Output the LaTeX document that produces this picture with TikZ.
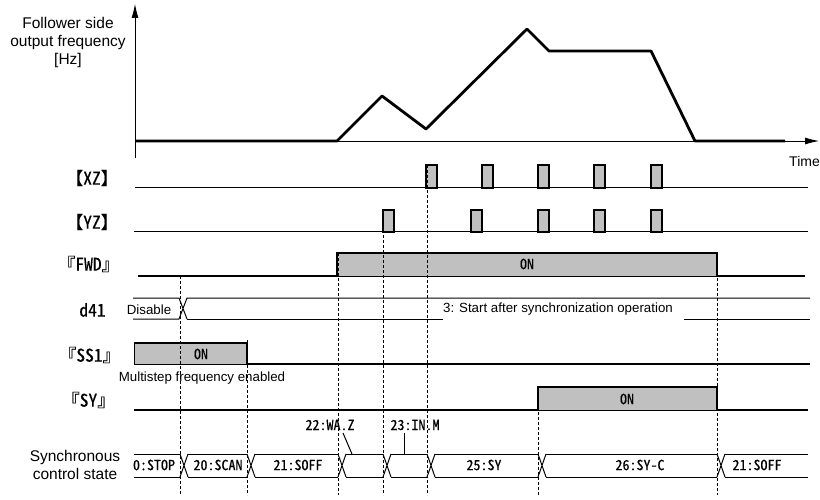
\documentclass[tikz,border=0pt]{standalone}
\usepackage{fontspec}
\setmainfont{Liberation Sans}
\newfontfamily\jpfont[RawFeature={+hwid},FakeBold=0.4]{Noto Sans CJK JP}
\usetikzlibrary{arrows.meta}
\definecolor{sigfill}{RGB}{192,192,192}
\begin{document}
\begin{tikzpicture}[x=1pt,y=-1pt,
  thickline/.style={line width=2.8pt,line join=round},
  thinline/.style={line width=1pt},
  pulse/.style={fill=sigfill,draw=black,line width=1.4pt},
  guide/.style={line width=0.7pt,dash pattern=on 3pt off 2pt},
  axis/.style={line width=0.8pt,-{Latex[length=14pt,width=7pt]}},
  lab/.style={font=\fontsize{15.5}{18}\selectfont,align=center,inner sep=0pt},
  small/.style={font=\fontsize{13.3}{15}\selectfont,inner sep=1pt},
  sig/.style={font=\jpfont\fontsize{17.5}{19}\selectfont,inner sep=0pt},
  st/.style={font=\jpfont\fontsize{14}{16}\selectfont,inner sep=0pt},
]
\useasboundingbox (0,0) rectangle (820,500);

% ---------- frequency graph ----------
\node[lab] (ylab) at (68,42) {Follower side\\output frequency\\{[Hz]}};
\coordinate (vbot) at (135,158);
\coordinate (vtop) at (135,4);
\coordinate (hleft) at (135,141);
\coordinate (hright) at (819,141);
\draw[axis] (vbot) -- (vtop);
\draw[axis] (hleft) -- (hright);
\draw[thickline] (135,141) -- (337,141) -- (382,96) -- (426,129) -- (527,29)
  -- (549,51) -- (651,51) -- (695,141) -- (785,141);
\node[font=\fontsize{14}{16}\selectfont,anchor=east,inner sep=0pt] (time) at (820,161) {Time};

% ---------- signal labels ----------
\node[sig] (lxz) at (92,178) {【XZ】};
\node[sig] (lyz) at (92,222) {【YZ】};
\node[sig] (lfwd) at (88.5,264) {『FWD』};
\node[sig] (ld41) at (92.5,310) {d41};
\node[sig] (lss1) at (89.5,355) {『SS1』};
\node[sig] (lsy) at (88.5,400) {『SY』};
\node[lab] (lstate) at (75,465) {Synchronous\\control state};

% ---------- XZ ----------
\draw[thinline] (135,188) -- (808,188);
\foreach \a in {426,482,538,594,651} \draw[pulse] (\a,188) rectangle (\a+11,165);

% ---------- YZ ----------
\draw[thinline] (134,232) -- (808,232);
\foreach \a in {383,471,538,594,651} \draw[pulse] (\a,232) rectangle (\a+11,210);

% ---------- FWD ----------
\fill[sigfill] (337,253) rectangle (717,276);
\draw[thinline] (337,276) -- (717,276);
\draw[thickline,line join=miter] (138,276) -- (337,276) -- (337,253) -- (717,253) -- (717,276) -- (805,276);
\node[st] (onfwd) at (527,264) {ON};

% ---------- d41 ----------
\draw[thinline] (133,298) -- (179,298) -- (187,319) (133,319) -- (179,319) -- (187,298) -- (810,298);
\draw[thinline] (187,319) -- (443,319) (684,319) -- (810,319);
\node[small] (disable) at (149,310) {Disable};
\node[small] (start) at (558,309) {3: Start after synchronization operation};

% ---------- SS1 ----------
\fill[sigfill] (134,343) rectangle (247,364);
\draw[thinline] (134,343) -- (134,364) -- (247,364);
\draw[thickline,line join=miter] (134,343) -- (247,343) -- (247,364) -- (810,364);
\node[st] (onss1) at (201,354) {ON};
\node[small] (multi) at (202,378) {Multistep frequency enabled};

% ---------- SY ----------
\fill[sigfill] (538,387) rectangle (717,410);
\draw[thinline] (538,410) -- (717,410);
\draw[thickline,line join=miter] (134,410) -- (538,410) -- (538,387) -- (717,387) -- (717,410) -- (808,410);
\node[st] (onsy) at (627,399) {ON};

% ---------- synchronous control state ----------
\draw[thinline] (134,454) -- (180,454) (134,477) -- (180,477);
\foreach \c in {180,247,338,383,427,538,717}
  \draw[thinline] (\c,454) -- (\c+8,477) (\c,477) -- (\c+8,454);
\foreach \a/\b in {188/247,255/338,346/383,391/427,435/538,546/717,725/808}
  \draw[thinline] (\a,454) -- (\b,454) (\a,477) -- (\b,477);
\node[st] (s0) at (154,465) {0:STOP};
\node[st] (s20) at (218,465) {20:SCAN};
\node[st] (s21) at (298,465) {21:SOFF};
\node[st] (s25) at (484,465) {25:SY};
\node[st] (s26) at (640,465) {26:SY-C};
\node[st] (s21b) at (757,465) {21:SOFF};
\node[st] (s22) at (330,425) {22:WA.Z};
\node[st] (s23) at (415,425) {23:IN.M};
\coordinate (p22) at (352,454);
\coordinate (p23) at (404,454);
\draw[thinline] (343,433) -- (p22);
\draw[thinline] (404,433) -- (p23);

% ---------- guide lines ----------
\foreach \x/\y in {180/276,247/340,338/253,383/210,427/165,538/387,717/253}
  \draw[guide] (\x,\y) -- (\x,495);
\end{tikzpicture}
\end{document}
